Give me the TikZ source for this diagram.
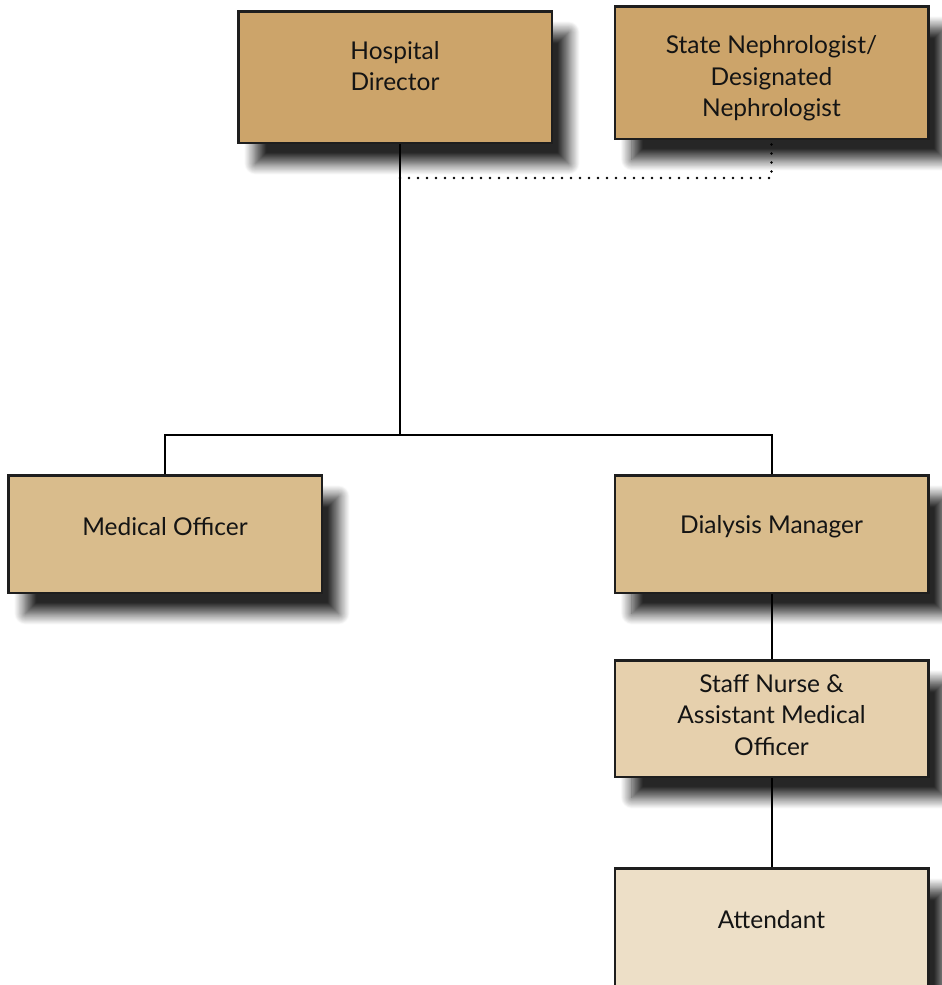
\documentclass[tikz,border=0pt]{standalone}
\usepackage{fontspec}
\setmainfont{Lato}
\usetikzlibrary{shadows.blur,calc}
\definecolor{cTop}{HTML}{CCA46A}
\definecolor{cMid}{HTML}{D9BC8C}
\definecolor{cNurse}{HTML}{E6D0AD}
\definecolor{cAtt}{HTML}{EDDFC7}
\definecolor{boxline}{HTML}{1E1E1E}
\begin{document}
\begin{tikzpicture}[x=1pt,y=1pt,
  box/.style={draw=boxline, line width=2.5pt, minimum width=313.5pt, inner sep=0pt,
    blur shadow={shadow xshift=17pt, shadow yshift=-21pt, shadow blur radius=11pt, shadow blur steps=16, shadow opacity=85}},
  lbl/.style={align=center, font=\fontsize{24.5}{31.5}\selectfont, text=black!92, inner sep=0pt},
  link/.style={line width=2pt},
  dotlink/.style={line width=2.6pt, dash pattern=on 0pt off 9pt, line cap=round}]
\useasboundingbox (0,0) rectangle (942,-985);
% boxes
\node[box, fill=cTop, minimum height=131.5pt] (hd) at (395,-77) {};
\node[box, fill=cTop, minimum height=132.5pt] (sn) at (771.5,-72.5) {};
\node[box, fill=cMid, minimum height=117.5pt] (mo) at (165,-534) {};
\node[box, fill=cMid, minimum height=117.5pt] (dm) at (771.5,-534) {};
\node[box, fill=cNurse, minimum height=116.5pt] (st) at (771.5,-718.5) {};
\node[box, fill=cAtt, minimum height=117.5pt] (at) at (771.5,-927) {};
% labels
\node[lbl] (hdt) at ($(hd)+(0,11)$) {Hospital\\Director};
\node[lbl] (snt) at ($(sn)+(0,-6)$) {State Nephrologist/\\Designated\\Nephrologist};
\node[lbl] (mot) at ($(mo)+(0,7)$) {Medical Officer};
\node[lbl] (dmt) at ($(dm)+(0,7)$) {Dialysis Manager};
\node[lbl] (stt) at ($(st)+(0,3.5)$) {Staff Nurse \&\\Assistant Medical\\Officer};
\node[lbl] (att) at ($(at)+(0,7)$) {Attendant};
% connectors
\coordinate (j) at (400,-435);
\coordinate (d) at (400,-178);
\draw[link] (j |- hd.south) -- (j);
\draw[link] (mo.north) |- (j) -| (dm.north);
\draw[link] (dm.south) -- (st.north);
\draw[link] (st.south) -- (at.north);
\draw[dotlink] (d) -| (sn.south);
\end{tikzpicture}
\end{document}
